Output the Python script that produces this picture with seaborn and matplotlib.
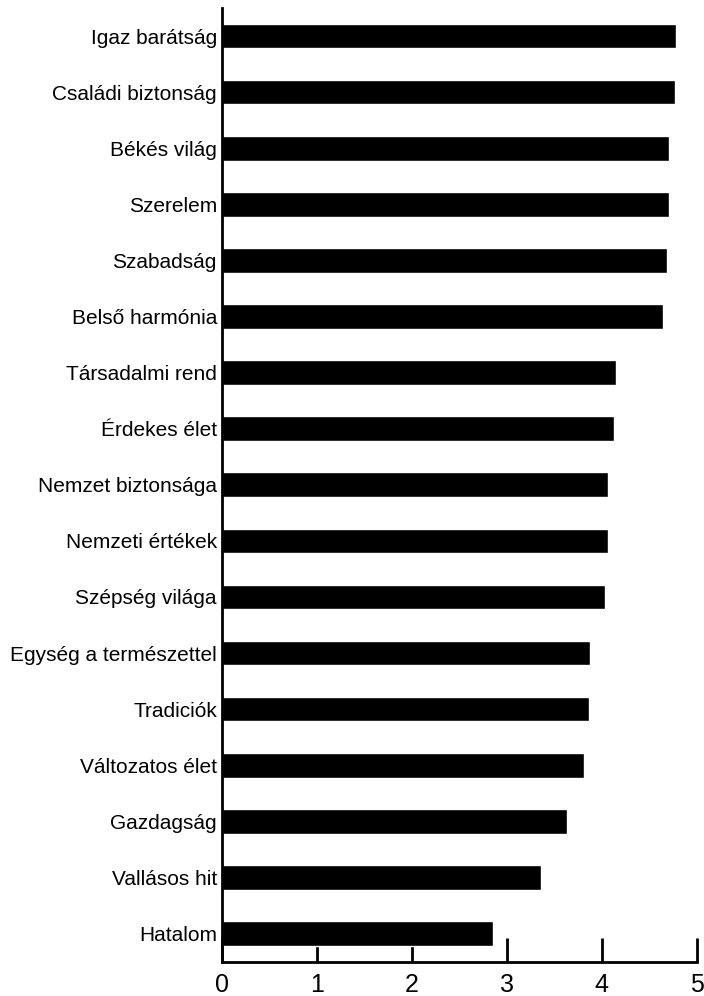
import pandas as pd
import seaborn as sns
import matplotlib.pyplot as plt

# values
values = ['Igaz barátság', 'Családi biztonság', 'Békés világ', 'Szerelem',
          'Szabadság', 'Belső harmónia', 'Társadalmi rend', 'Érdekes élet',
          'Nemzet biztonsága', 'Nemzeti értékek', 'Szépség világa',
          'Egység a természettel', 'Tradiciók', 'Változatos élet',
          'Gazdagság', 'Vallásos hit', 'Hatalom']
scores = [4.78, 4.77, 4.71, 4.71, 4.69, 4.64, 4.15, 4.13, 4.06, 4.06, 4.03,
          3.88, 3.86, 3.81, 3.63, 3.36, 2.85]
x_ticks = [0, 1, 2, 3, 4, 5]

data = pd.DataFrame({'Value': values, 'Score': scores})

sns.set_style('white')
plt.rcParams['font.family'] = ['Liberation Sans', 'DejaVu Sans']
plt.rcParams['text.color'] = 'black'
plt.rcParams['xtick.color'] = 'black'
plt.rcParams['ytick.color'] = 'black'

fig = plt.figure(figsize=(7.04, 9.96), dpi=100)
ax = fig.add_axes([0.316, 0.0346, 0.6736, 0.9574])

sns.barplot(
    data=data,
    x='Score',
    y='Value',
    orient='h',
    color='black',
    width=0.44,
    saturation=1,
    ax=ax
)

ax.set_xlim(0, 5)
ax.set_ylim(len(values) - 0.5, -0.5)
ax.set_xticks(x_ticks)
ax.set_xlabel('')
ax.set_ylabel('')

for side in ['top', 'right']:
    ax.spines[side].set_visible(False)
for side in ['left', 'bottom']:
    ax.spines[side].set_color('black')
    ax.spines[side].set_linewidth(2)

ax.tick_params(axis='x', bottom=True, direction='in', length=17, width=2,
               color='black', labelcolor='black', labelsize=18, pad=8)
ax.tick_params(axis='y', left=False, length=0, labelcolor='black',
               labelsize=15, pad=4)

plt.savefig('out.png', dpi=100)
